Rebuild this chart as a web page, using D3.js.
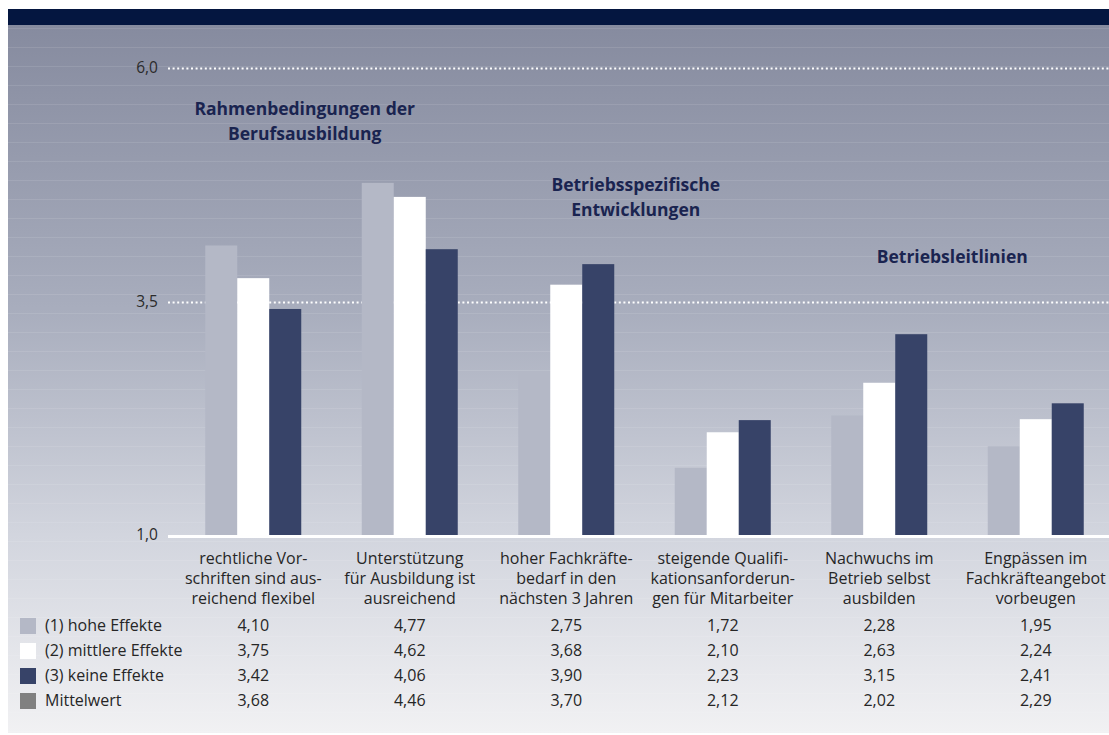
<!DOCTYPE html>
<html>
<head>
<meta charset="utf-8">
<script src="https://cdn.jsdelivr.net/npm/d3@7"></script>
<style>
	body { margin: 0; background: #ffffff; }
	svg { display: block; font-family: "Open Sans", "Noto Sans", sans-serif; }
</style>
</head>
<body>
<div id="viz"></div>
<script>
// categories (each label split in its three printed lines)
const categories = [
	["rechtliche Vor-", "schriften sind aus-", "reichend flexibel"],
	["Unterstützung", "für Ausbildung ist", "ausreichend"],
	["hoher Fachkräfte-", "bedarf in den", "nächsten 3 Jahren"],
	["steigende Qualifi-", "kationsanforderun-", "gen für Mitarbeiter"],
	["Nachwuchs im", "Betrieb selbst", "ausbilden"],
	["Engpässen im", "Fachkräfteangebot", "vorbeugen"],
];

// series values
const hoheEffekte = [4.1, 4.77, 2.75, 1.72, 2.28, 1.95];
const mittlereEffekte = [3.75, 4.62, 3.68, 2.1, 2.63, 2.24];
const keineEffekte = [3.42, 4.06, 3.9, 2.23, 3.15, 2.41];
const mittelwert = [3.68, 4.46, 3.7, 2.12, 2.02, 2.29];

const seriesNames = [
	"(1) hohe Effekte",
	"(2) mittlere Effekte",
	"(3) keine Effekte",
	"Mittelwert",
];

const yTicks = [1.0, 3.5, 6.0];

// group headings
const groupTitles = [
	["Rahmenbedingungen der", "Berufsausbildung"],
	["Betriebsspezifische", "Entwicklungen"],
	["Betriebsleitlinien"],
];

// ---- layout ----
var W = 1109,
	H = 735;

var colors = ["#b4b8c6", "#ffffff", "#374368", "#808080"];
var fmt = (v) => v.toFixed(2).replace(".", ",");
var fmtTick = (v) => v.toFixed(1).replace(".", ",");

var svg = d3
	.select("#viz")
	.append("svg")
	.attr("width", W)
	.attr("height", H);

var defs = svg.append("defs");
var grad = defs
	.append("linearGradient")
	.attr("id", "bg")
	.attr("x1", 0)
	.attr("y1", 0)
	.attr("x2", 0)
	.attr("y2", 1);
grad.append("stop").attr("offset", "0%").attr("stop-color", "#868b9f");
grad.append("stop").attr("offset", "40%").attr("stop-color", "#a8adbd");
grad.append("stop").attr("offset", "72%").attr("stop-color", "#d2d5de");
grad.append("stop").attr("offset", "100%").attr("stop-color", "#f1f1f3");

// panel
svg
	.append("rect")
	.attr("x", 8)
	.attr("y", 25)
	.attr("width", W - 8)
	.attr("height", 708)
	.attr("fill", "url(#bg)");

// faint stripes
svg
	.append("g")
	.selectAll("line")
	.data(d3.range(28, 733, 19))
	.join("line")
	.attr("x1", 8)
	.attr("x2", W)
	.attr("y1", (d) => d + 0.5)
	.attr("y2", (d) => d + 0.5)
	.attr("stroke", "#ffffff")
	.attr("stroke-opacity", 0.1);

// header bar
svg
	.append("rect")
	.attr("x", 8)
	.attr("y", 9)
	.attr("width", W - 8)
	.attr("height", 16)
	.attr("fill", "#041640");

// scales
var y = d3.scaleLinear().domain([1, 6]).range([535, 68]);
var x = d3
	.scaleBand()
	.domain(d3.range(categories.length))
	.range([175, 1114])
	.padding(0);
var groupW = 96;
var xs = d3
	.scaleBand()
	.domain(d3.range(3))
	.range([-groupW / 2, groupW / 2]);
var cx = (i) => x(i) + x.bandwidth() / 2;

// dotted grid lines
svg
	.append("g")
	.selectAll("line")
	.data(yTicks.filter((t) => t > 1))
	.join("line")
	.attr("x1", 168)
	.attr("x2", W)
	.attr("y1", (d) => Math.round(y(d)) + 0.5)
	.attr("y2", (d) => Math.round(y(d)) + 0.5)
	.attr("stroke", "#ffffff")
	.attr("stroke-width", 2)
	.attr("stroke-dasharray", "2 2.6");

// tick labels (left axis, no domain line)
var yAxis = d3
	.axisLeft(y)
	.tickValues(yTicks)
	.tickSize(0)
	.tickPadding(0)
	.tickFormat(fmtTick);
var ax = svg.append("g").attr("transform", "translate(158,0)").call(yAxis);
ax.select(".domain").remove();
ax.selectAll("text")
	.attr("font-size", 15.5)
	.attr("fill", "#2b2b2b")
	.attr("font-family", "'Open Sans', sans-serif");

// bars
var series = [hoheEffekte, mittlereEffekte, keineEffekte];
svg
	.append("g")
	.selectAll("g")
	.data(series)
	.join("g")
	.attr("fill", (d, s) => colors[s])
	.selectAll("rect")
	.data((d, s) => d.map((v, i) => ({ v, i, s })))
	.join("rect")
	.attr("x", (d) => cx(d.i) + xs(d.s))
	.attr("y", (d) => y(d.v))
	.attr("width", xs.bandwidth())
	.attr("height", (d) => y(1) - y(d.v));

// baseline
svg
	.append("line")
	.attr("x1", 168)
	.attr("x2", W)
	.attr("y1", y(1) + 1.5)
	.attr("y2", y(1) + 1.5)
	.attr("stroke", "#ffffff")
	.attr("stroke-width", 3);

// group titles (centered above pairs of categories)
var titlePos = [
	{ x: cx(0) + 51.5, y: 115 },
	{ x: cx(2) + 69.5, y: 191 },
	{ x: cx(4) + 73, y: 263 },
];
groupTitles.forEach((lines, g) => {
	svg
		.append("text")
		.attr("text-anchor", "middle")
		.attr("font-size", 17.5)
		.attr("font-weight", "bold")
		.attr("fill", "#1a2450")
		.selectAll("tspan")
		.data(lines)
		.join("tspan")
		.attr("x", titlePos[g].x)
		.attr("y", (d, k) => titlePos[g].y + k * 24.5)
		.text((d) => d);
});

// category labels
svg
	.append("g")
	.selectAll("text")
	.data(categories)
	.join("text")
	.attr("text-anchor", "middle")
	.attr("font-size", 16)
	.attr("fill", "#262626")
	.selectAll("tspan")
	.data((d, i) => d.map((t) => ({ t, i })))
	.join("tspan")
	.attr("x", (d) => cx(d.i))
	.attr("y", (d, k) => 564 + k * 20)
	.text((d) => d.t);

// table rows
var rows = [hoheEffekte, mittlereEffekte, keineEffekte, mittelwert];
var rowY = (r) => 631 + r * 25;

var leg = svg.append("g");
leg
	.selectAll("rect")
	.data(seriesNames)
	.join("rect")
	.attr("x", 20)
	.attr("y", (d, r) => rowY(r) - 13)
	.attr("width", 16)
	.attr("height", 16)
	.attr("fill", (d, r) => colors[r]);
leg
	.selectAll("text")
	.data(seriesNames)
	.join("text")
	.attr("x", 45)
	.attr("y", (d, r) => rowY(r))
	.attr("font-size", 16)
	.attr("fill", "#262626")
	.text((d) => d);

svg
	.append("g")
	.selectAll("g")
	.data(rows)
	.join("g")
	.selectAll("text")
	.data((d, r) => d.map((v, i) => ({ v, i, r })))
	.join("text")
	.attr("text-anchor", "middle")
	.attr("x", (d) => cx(d.i))
	.attr("y", (d) => rowY(d.r))
	.attr("font-size", 16)
	.attr("fill", "#262626")
	.text((d) => fmt(d.v));
</script>
</body>
</html>
